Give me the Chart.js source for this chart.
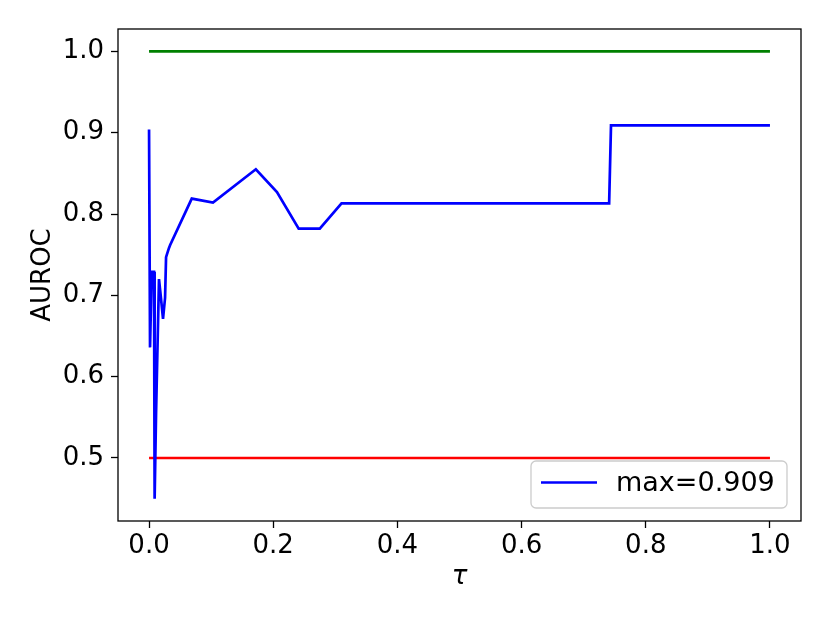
<!DOCTYPE html>
<html>
<head>
<meta charset="utf-8">
<script src="https://cdn.jsdelivr.net/npm/chart.js@4.4.1/dist/chart.umd.min.js"></script>
<style>
html,body{margin:0;padding:0;background:#fff;}
canvas{display:block;}
</style>
</head>
<body>
<canvas id="c" width="830" height="623"></canvas>
<script>
// ---- data ----
const tau = [0.0, 0.0016, 0.0043, 0.008, 0.009, 0.0113, 0.016, 0.019, 0.0225, 0.0258, 0.0274, 0.032, 0.034, 0.0688, 0.103, 0.172, 0.206, 0.241, 0.275, 0.31, 0.741, 0.744, 1.0];
const auroc = [0.904, 0.636, 0.729, 0.729, 0.450, 0.555, 0.720, 0.698, 0.671, 0.697, 0.747, 0.758, 0.762, 0.819, 0.814, 0.855, 0.827, 0.782, 0.782, 0.813, 0.813, 0.909, 0.909];
const refX = [0.0, 1.0];
const upperRef = [1.0, 1.0];
const lowerRef = [0.5, 0.5];
const seriesLabel = 'max=0.909';
const xTicks = [0.0, 0.2, 0.4, 0.6, 0.8, 1.0];
const yTicks = [0.5, 0.6, 0.7, 0.8, 0.9, 1.0];
const xTitle = 'τ';
const yTitle = 'AUROC';

const FONT = "'DejaVu Sans', sans-serif";
const toXY = (xs, ys) => xs.map((x, i) => ({x: x, y: ys[i]}));

const framePlugin = {
  id: 'frame',
  afterDatasetsDraw(chart) {
    const {ctx, chartArea: a} = chart;
    ctx.save();
    ctx.strokeStyle = '#000';
    ctx.lineWidth = 1.3;
    ctx.strokeRect(a.left, a.top, a.right - a.left, a.bottom - a.top);
    ctx.restore();
  }
};

const legendPlugin = {
  id: 'insideLegend',
  afterDraw(chart) {
    const {ctx} = chart;
    const ds = chart.data.datasets.find(d => d.showInLegend);
    const x0 = 531, y0 = 461, w = 256, h = 47, r = 5;
    ctx.save();
    ctx.beginPath();
    ctx.moveTo(x0 + r, y0);
    ctx.arcTo(x0 + w, y0, x0 + w, y0 + h, r);
    ctx.arcTo(x0 + w, y0 + h, x0, y0 + h, r);
    ctx.arcTo(x0, y0 + h, x0, y0, r);
    ctx.arcTo(x0, y0, x0 + w, y0, r);
    ctx.closePath();
    ctx.fillStyle = 'rgba(255,255,255,0.8)';
    ctx.fill();
    ctx.strokeStyle = '#cccccc';
    ctx.lineWidth = 1.3;
    ctx.stroke();
    ctx.beginPath();
    ctx.moveTo(541, 482.5);
    ctx.lineTo(597, 482.5);
    ctx.strokeStyle = ds.borderColor;
    ctx.lineWidth = ds.borderWidth;
    ctx.stroke();
    ctx.fillStyle = '#000';
    ctx.font = '27px ' + FONT;
    ctx.textBaseline = 'middle';
    ctx.textAlign = 'left';
    ctx.fillText(ds.label, 616, 484);
    ctx.restore();
  }
};

new Chart(document.getElementById('c'), {
  type: 'line',
  data: {
    datasets: [
      {label: 'upper', data: toXY(refX, upperRef), borderColor: '#008000', borderWidth: 2.6, pointRadius: 0, tension: 0, order: 3},
      {label: 'lower', data: toXY(refX, lowerRef), borderColor: '#ff0000', borderWidth: 2.6, pointRadius: 0, tension: 0, order: 2},
      {label: seriesLabel, showInLegend: true, data: toXY(tau, auroc), borderColor: '#0000ff', borderWidth: 2.7, pointRadius: 0, tension: 0, order: 1}
    ]
  },
  options: {
    responsive: false,
    animation: false,
    layout: {padding: {top: 29, right: 29, left: 0, bottom: 0}},
    plugins: {legend: {display: false}, tooltip: {enabled: false}},
    scales: {
      x: {
        type: 'linear',
        min: -0.05, max: 1.05,
        afterFit: s => { s.height = 102; },
        afterBuildTicks: s => { s.ticks = xTicks.map(v => ({value: v})); },
        ticks: {
          color: '#000', font: {family: FONT, size: 26}, padding: 3,
          maxRotation: 0, autoSkip: false,
          callback: v => v.toFixed(1)
        },
        grid: {drawOnChartArea: false, drawTicks: true, tickLength: 7, tickColor: '#000', tickWidth: 1.3},
        border: {display: false},
        title: {display: true, text: xTitle, color: '#000', font: {family: FONT, size: 26, style: 'italic'}, padding: {top: 0, bottom: 30}}
      },
      y: {
        type: 'linear',
        min: 0.4225, max: 1.0275,
        afterFit: s => { s.width = 118; },
        afterBuildTicks: s => { s.ticks = yTicks.map(v => ({value: v})); },
        ticks: {
          color: '#000', font: {family: FONT, size: 26}, padding: 7,
          autoSkip: false,
          callback: v => v.toFixed(1)
        },
        grid: {drawOnChartArea: false, drawTicks: true, tickLength: 7, tickColor: '#000', tickWidth: 1.3},
        border: {display: false},
        title: {display: true, text: yTitle, color: '#000', font: {family: FONT, size: 26}, padding: {top: 28, bottom: 0}}
      }
    }
  },
  plugins: [framePlugin, legendPlugin]
});
</script>
</body>
</html>
